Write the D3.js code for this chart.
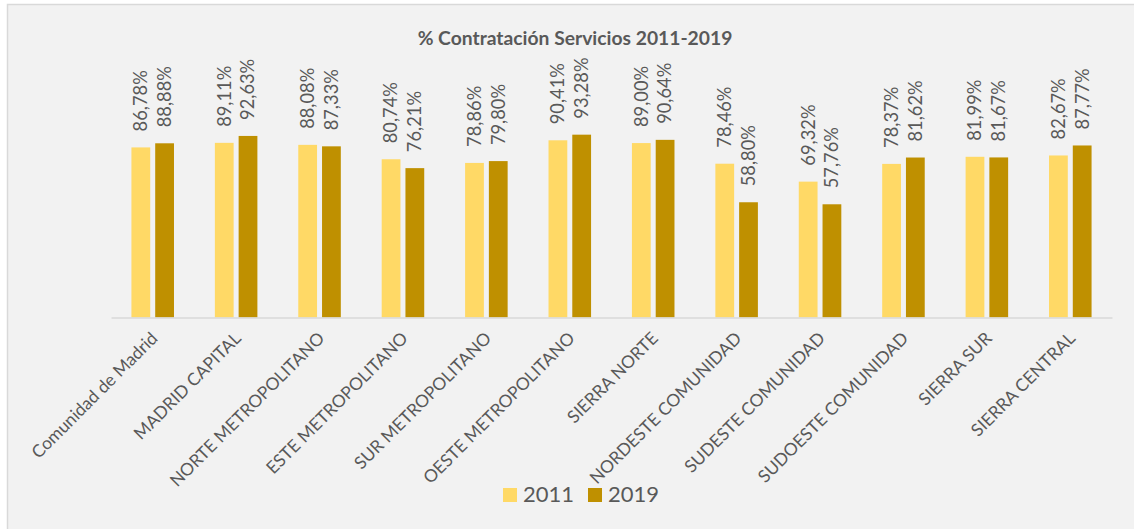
<!DOCTYPE html>
<html>
<head>
    <meta charset="utf-8">
    <title>% Contratación Servicios 2011-2019</title>
    <script src="https://cdn.jsdelivr.net/npm/d3@7"></script>
    <style type="text/css">
        body { margin: 0; background: #ffffff; }
        .chart text { font-family: Lato, "Open Sans", sans-serif; fill: #595959; }
    </style>
</head>
<body>
    <svg class="chart"></svg>

    <script type="text/javascript">
    var categories = ['Comunidad de Madrid', 'MADRID CAPITAL', 'NORTE METROPOLITANO', 'ESTE METROPOLITANO',
        'SUR  METROPOLITANO', 'OESTE  METROPOLITANO', 'SIERRA NORTE', 'NORDESTE COMUNIDAD',
        'SUDESTE COMUNIDAD', 'SUDOESTE COMUNIDAD', 'SIERRA SUR', 'SIERRA CENTRAL'];
    var series = ['2011', '2019'];
    var values2011 = [86.78, 89.11, 88.08, 80.74, 78.86, 90.41, 89.00, 78.46, 69.32, 78.37, 81.99, 82.67];
    var values2019 = [88.88, 92.63, 87.33, 76.21, 79.80, 93.28, 90.64, 58.80, 57.76, 81.62, 81.67, 87.77];
    var colors = ['#FFD966', '#BF9000'];

    var width = 1134;
    var height = 529;

    var svg = d3.select('.chart')
        .attr('width', width)
        .attr('height', height);

    // chart area background + border (clipped on right/bottom like the capture)
    svg.append('rect')
        .attr('x', 7.5).attr('y', 4.5)
        .attr('width', width + 10).attr('height', height + 10)
        .attr('fill', '#f2f2f2')
        .attr('stroke', '#d9d9d9')
        .attr('stroke-width', 1.5);

    var x0 = d3.scaleBand()
        .domain(categories)
        .range([111, 1112])
        .paddingInner(0.49)
        .paddingOuter(0.245);

    var x1 = d3.scaleBand()
        .domain(series)
        .range([0, x0.bandwidth()])
        .paddingInner(0.21);

    var y = d3.scaleLinear()
        .domain([0, 100])
        .range([317.5, 121.5]);

    var color = d3.scaleOrdinal(series, colors);

    var rows = categories.map(function (c, i) {
        return { cat: c, vals: [ { s: '2011', v: values2011[i] }, { s: '2019', v: values2019[i] } ] };
    });

    var groups = svg.selectAll('.grp')
        .data(rows)
        .enter()
            .append('g')
            .attr('class', 'grp')
            .attr('transform', function (d) { return 'translate(' + x0(d.cat) + ',0)'; });

    groups.selectAll('rect')
        .data(function (d) { return d.vals; })
        .enter()
            .append('rect')
            .attr('x', function (d) { return x1(d.s); })
            .attr('y', function (d) { return y(d.v); })
            .attr('width', x1.bandwidth())
            .attr('height', function (d) { return y(0) - y(d.v); })
            .attr('fill', function (d) { return color(d.s); });

    // data labels, rotated
    groups.selectAll('.lbl')
        .data(function (d) { return d.vals; })
        .enter()
            .append('text')
            .attr('class', 'lbl')
            .attr('transform', function (d) {
                return 'translate(' + (x1(d.s) + x1.bandwidth() / 2) + ',' + (y(d.v) - 16) + ') rotate(-90)';
            })
            .attr('dy', '0.35em')
            .style('font-size', '18.3px')
            .text(function (d) { return d.v.toFixed(2).replace('.', ',') + '%'; });

    // x axis
    var xAxis = svg.append('g')
        .attr('transform', 'translate(0,' + y(0) + ')')
        .call(d3.axisBottom(x0).tickSize(0).tickPadding(0));
    xAxis.select('.domain').attr('stroke', '#d9d9d9').attr('stroke-width', 1.5);
    xAxis.selectAll('.tick text')
        .attr('text-anchor', 'end')
        .attr('dy', 0)
        .attr('y', 0)
        .attr('transform', 'translate(6,22) rotate(-45)')
        .style('font-size', '17.4px')
        .style('font-family', 'Lato, sans-serif')
        .attr('fill', '#595959');

    // title
    svg.append('text')
        .attr('x', 575)
        .attr('y', 45)
        .attr('text-anchor', 'middle')
        .style('font-size', '19.3px')
        .style('font-weight', 'bold')
        .text('% Contratación Servicios 2011-2019');

    // legend
    var legend = svg.append('g')
        .attr('transform', 'translate(503,488)');
    var li = legend.selectAll('g')
        .data(series)
        .enter()
            .append('g')
            .attr('transform', function (d, i) { return 'translate(' + (i * 85) + ',0)'; });
    li.append('rect')
        .attr('width', 14).attr('height', 14)
        .attr('fill', function (d) { return color(d); });
    li.append('text')
        .attr('x', 20).attr('y', 14)
        .style('font-size', '22px')
        .text(function (d) { return d; });
    </script>
</body>
</html>
